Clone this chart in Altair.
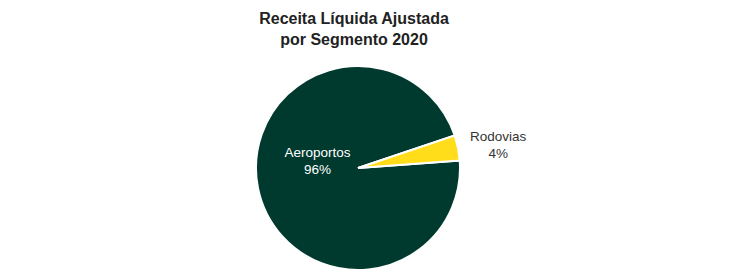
import altair as alt
import pandas as pd

segmentos = ["Aeroportos", "Rodovias"]
valores = [96, 4]
rotulos = ["96%", "4%"]
cores = ["#003A2F", "#FFDD1A"]

df = pd.DataFrame({"segmento": segmentos, "valor": valores, "rotulo": rotulos})
df["texto"] = df["segmento"] + "\n" + df["rotulo"]

start = 1.246
theta_scale = alt.Scale(range=[start, start + 2 * 3.14159265])

base = alt.Chart(df).encode(
    theta=alt.Theta("valor:Q", stack=True, scale=theta_scale),
    order=alt.Order("segmento:N", sort="descending"),
)

CX, CY = 350, 116

pie = base.mark_arc(outerRadius=102, stroke="white", strokeWidth=2).encode(
    color=alt.Color("segmento:N", scale=alt.Scale(domain=segmentos, range=cores), legend=None),
    x=alt.value(CX), y=alt.value(CY),
)

lab_in = base.mark_text(radius=45, fontSize=13.5, font="Liberation Sans", color="white",
                        lineBreak="\n", lineHeight=17, baseline="middle", align="center", dy=-35).encode(
    text="texto:N", x=alt.value(CX), y=alt.value(CY),
).transform_filter(alt.datum.segmento == "Aeroportos")

lab_out = base.mark_text(radius=143, fontSize=13.5, font="Liberation Sans", color="#333333",
                         lineBreak="\n", lineHeight=17, baseline="middle", align="center", dy=-3).encode(
    text="texto:N", x=alt.value(CX), y=alt.value(CY),
).transform_filter(alt.datum.segmento == "Rodovias")

chart = alt.layer(pie, lab_in, lab_out).properties(
    width=726, height=210, padding={"left": 0, "top": 3, "right": 0, "bottom": 0},
    title=alt.TitleParams(
        ["Receita Líquida Ajustada", "por Segmento 2020"],
        font="Liberation Sans", fontSize=16, fontWeight="bold", color="#222222",
        anchor="middle", dx=-17, lineHeight=21,
    ),
).configure_view(stroke=None)

chart.save("out.html", embed_options={"renderer": "svg", "actions": False})
